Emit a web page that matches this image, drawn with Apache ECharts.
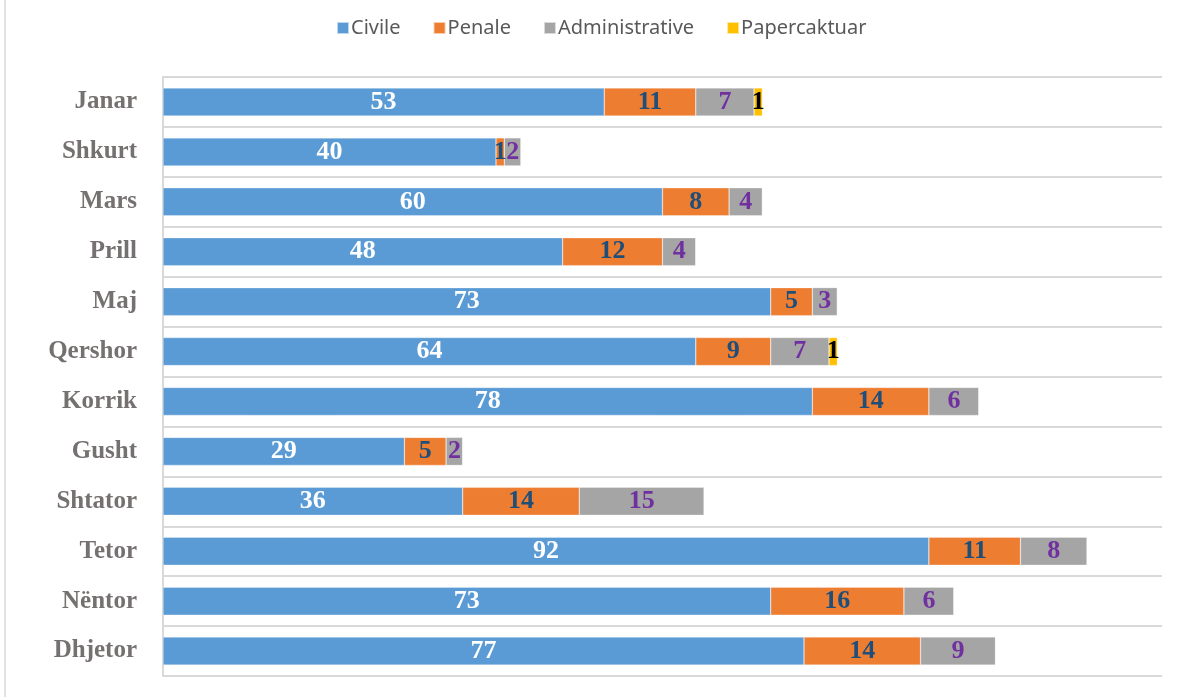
<!DOCTYPE html>
<html>
<head>
<meta charset="utf-8">
<script src="https://cdn.jsdelivr.net/npm/echarts@6/dist/echarts.min.js"></script>
<style>
  html, body { margin: 0; padding: 0; background: #fff; }
  #chart { width: 1177px; height: 697px; }
</style>
</head>
<body>
<div id="chart"></div>
<script>
// muajt, nga lart poshte
const months = ['Janar', 'Shkurt', 'Mars', 'Prill', 'Maj', 'Qershor', 'Korrik', 'Gusht', 'Shtator', 'Tetor', 'Nëntor', 'Dhjetor'];
const civile = [53, 40, 60, 48, 73, 64, 78, 29, 36, 92, 73, 77];
const penale = [11, 1, 8, 12, 5, 9, 14, 5, 14, 11, 16, 14];
const administrative = [7, 2, 4, 4, 3, 7, 6, 2, 15, 8, 6, 9];
const papercaktuar = [1, 0, 0, 0, 0, 1, 0, 0, 0, 0, 0, 0];

const serif = '"Liberation Serif", "DejaVu Serif", serif';

function bar(name, data, color, labelColor) {
    return {
        name: name,
        type: 'bar',
        stack: 'total',
        barWidth: 28,
        data: data,
        itemStyle: { color: color, borderColor: 'rgba(255,255,255,0.6)', borderWidth: 0.5 },
        label: {
            show: true,
            position: 'inside',
            color: labelColor,
            fontFamily: serif,
            fontWeight: 'bold',
            fontSize: 26,
            formatter: p => p.value === 0 ? '' : p.value
        }
    };
}

const myChart = echarts.init(document.getElementById('chart'));
myChart.setOption({
    animation: false,
    backgroundColor: '#fff',
    graphic: [{
        type: 'line',
        shape: { x1: 5, y1: 0, x2: 5, y2: 697 },
        style: { stroke: '#d9d9d9', lineWidth: 1.5 }
    }],
    legend: {
        top: 13,
        left: 331,
        itemWidth: 12,
        itemHeight: 12,
        itemGap: 32,
        icon: 'rect',
        textStyle: { color: '#595959', fontSize: 20, fontFamily: '"Noto Sans", sans-serif', padding: [0, 0, 0, -3] },
        data: ['Civile', 'Penale', 'Administrative', 'Papercaktuar']
    },
    grid: { left: 163, right: 15, top: 77, bottom: 21, containLabel: false },
    xAxis: {
        type: 'value',
        min: 0,
        max: 120,
        show: false
    },
    yAxis: {
        type: 'category',
        inverse: true,
        data: months,
        axisLine: { show: true, lineStyle: { color: '#d9d9d9', width: 2 } },
        axisTick: { show: false },
        splitLine: { show: true, lineStyle: { color: '#d9d9d9', width: 2 } },
        axisLabel: {
            margin: 26,
            color: '#767171',
            fontFamily: serif,
            fontWeight: 'bold',
            fontSize: 25
        }
    },
    series: [
        bar('Civile', civile, '#5b9bd5', '#ffffff'),
        bar('Penale', penale, '#ed7d31', '#1f4e79'),
        bar('Administrative', administrative, '#a5a5a5', '#7030a0'),
        bar('Papercaktuar', papercaktuar, '#ffc000', '#000000')
    ]
});
</script>
</body>
</html>
